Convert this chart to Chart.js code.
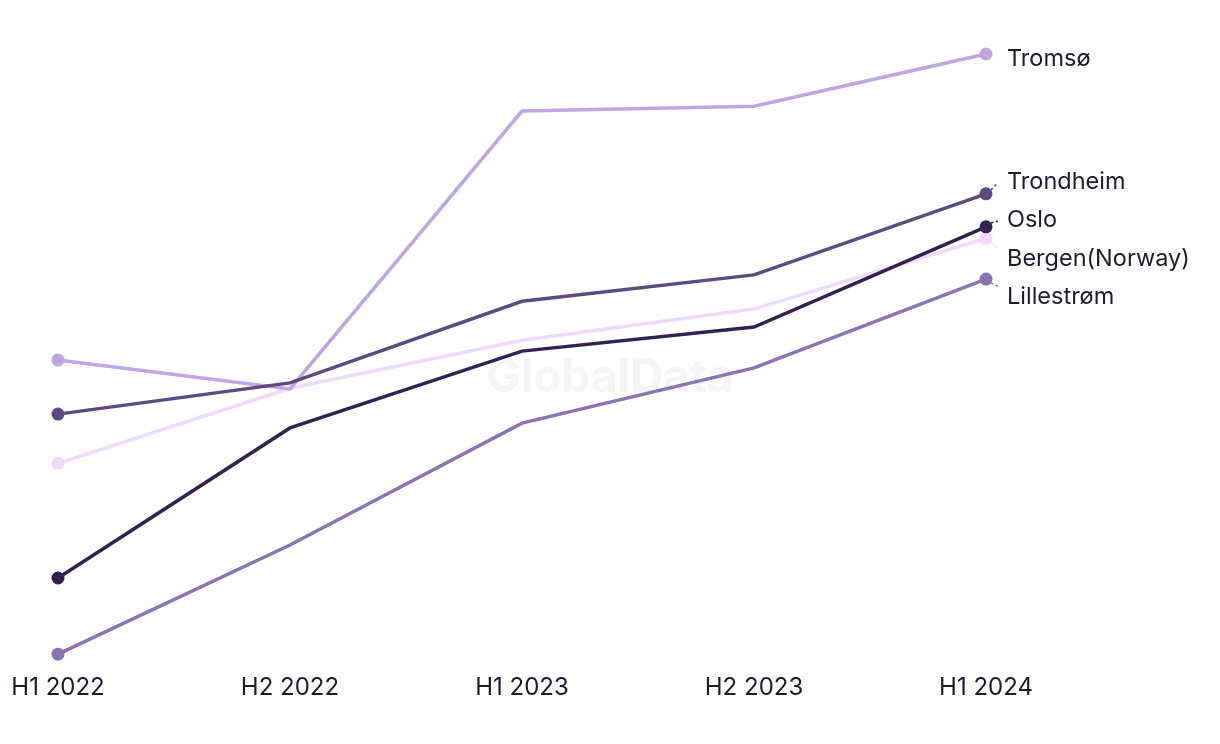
<!DOCTYPE html>
<html>
<head>
<meta charset="utf-8">
<script src="https://cdn.jsdelivr.net/npm/chart.js@4"></script>
<style>
  html, body { margin: 0; padding: 0; background: #fff; }
  #wrap { width: 1220px; height: 744px; position: relative; }
</style>
</head>
<body>
<div id="wrap"><canvas id="chart"></canvas></div>
<script>
const periods = ["H1 2022", "H2 2022", "H1 2023", "H2 2023", "H1 2024"];

const tromso = [49.0, 44.2, 90.5, 91.3, 100.0];
const trondheim = [40.0, 45.2, 58.8, 63.2, 76.7];
const oslo = [12.7, 37.7, 50.5, 54.5, 71.2];
const bergen = [31.8, 44.3, 52.3, 57.5, 69.3];
const lillestrom = [0.0, 18.2, 38.5, 47.7, 62.5];

const cityNames = ["Oslo", "Trondheim", "Tromsø", "Lillestrøm", "Bergen(Norway)"];
const cityValues = [oslo, trondheim, tromso, lillestrom, bergen];
const cityColors = ["#35214f", "#5f4a80", "#c0a5e0", "#8d73b0", "#f0d9fc"];

const textColor = "#1c1b30";
const fontFamily = "Inter, 'Noto Sans', sans-serif";

// faint watermark behind the lines
const watermark = {
  id: "watermark",
  beforeDatasetsDraw(chart) {
    const { ctx } = chart;
    ctx.save();
    ctx.fillStyle = "#f5f5f6";
    ctx.font = "bold 46px " + fontFamily;
    ctx.textAlign = "center";
    ctx.textBaseline = "middle";
    ctx.fillText("GlobalData", 610, 378);
    ctx.restore();
  }
};

// names at the end of each line, spread apart with short dotted leaders
const endLabels = {
  id: "endLabels",
  afterDatasetsDraw(chart) {
    const { ctx } = chart;
    const gap = 38.5;
    const items = chart.data.datasets.map((ds, i) => {
      const meta = chart.getDatasetMeta(i);
      const pt = meta.data[meta.data.length - 1];
      return { name: ds.label, color: ds.borderColor, x: pt.x, y: pt.y, ly: pt.y };
    }).sort((a, b) => a.y - b.y);

    // simple cluster spreading
    let groups = items.map(it => ({ members: [it], center: it.y }));
    let merged = true;
    while (merged) {
      merged = false;
      for (let i = 0; i < groups.length - 1; i++) {
        const a = groups[i], b = groups[i + 1];
        const aBottom = a.center + (a.members.length - 1) * gap / 2;
        const bTop = b.center - (b.members.length - 1) * gap / 2;
        if (bTop - aBottom < gap) {
          const members = a.members.concat(b.members);
          const center = members.reduce((s, m) => s + m.y, 0) / members.length;
          groups.splice(i, 2, { members, center });
          merged = true;
          break;
        }
      }
    }
    groups.forEach(g => {
      const n = g.members.length;
      g.members.forEach((m, k) => { m.ly = g.center + (k - (n - 1) / 2) * gap; });
    });

    ctx.save();
    ctx.font = "23.5px " + fontFamily;
    ctx.textBaseline = "middle";
    ctx.textAlign = "left";
    items.forEach(it => {
      if (Math.abs(it.ly - it.y) > 8) {
        const dir = it.ly > it.y ? 1 : -1;
        ctx.strokeStyle = it.color;
        ctx.lineWidth = 1.6;
        ctx.setLineDash([2.5, 2.5]);
        ctx.beginPath();
        ctx.moveTo(it.x + 5, it.y + dir * 4);
        ctx.lineTo(it.x + 12, it.ly - dir * 6);
        ctx.stroke();
        ctx.setLineDash([]);
      }
      ctx.fillStyle = textColor;
      ctx.fillText(it.name, it.x + 21, it.ly + 5);
    });
    ctx.restore();
  }
};

new Chart(document.getElementById("chart"), {
  type: "line",
  plugins: [watermark, endLabels],
  data: {
    labels: periods,
    datasets: cityNames.map((name, i) => ({
      label: name,
      data: cityValues[i],
      borderColor: cityColors[i],
      backgroundColor: cityColors[i],
      borderWidth: 3.5,
      pointRadius: [6.5, 0, 0, 0, 6.5],
      pointHoverRadius: 0,
      pointBorderWidth: 0,
      tension: 0,
      clip: false
    }))
  },
  options: {
    responsive: true,
    maintainAspectRatio: false,
    animation: false,
    layout: { padding: { top: 54, bottom: 23, left: 58, right: 234 } },
    plugins: {
      legend: { display: false },
      tooltip: { enabled: false }
    },
    scales: {
      x: {
        offset: false,
        grid: { display: false, drawTicks: false },
        border: { display: false },
        afterFit(scale) {
          // keep the first label from pushing the plot area right
          scale.paddingLeft = 0;
          scale.paddingRight = 0;
        },
        ticks: {
          color: textColor,
          padding: 19,
          maxRotation: 0,
          font: { size: 24, family: fontFamily }
        }
      },
      y: {
        display: false,
        min: 0,
        max: 100
      }
    }
  }
});
</script>
</body>
</html>
